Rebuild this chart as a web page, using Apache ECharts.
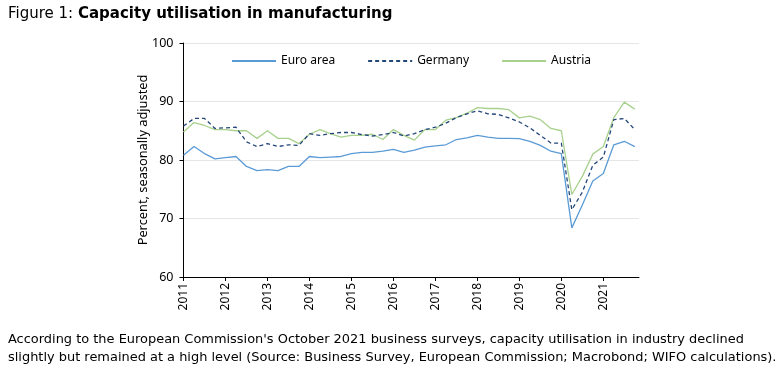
<!DOCTYPE html>
<html><head><meta charset="utf-8">
<script src="https://cdn.jsdelivr.net/npm/echarts@6/dist/echarts.min.js"></script>
<style>html,body{margin:0;padding:0;background:#fff}#c{width:781px;height:372px}</style>
</head><body><div id="c"></div>
<script>
var years = [2011,2012,2013,2014,2015,2016,2017,2018,2019,2020,2021];
var euroArea = [80.8,82.3,81.1,80.2, 80.4,80.6,78.9,78.2, 78.35,78.2,78.9,78.9, 80.6,80.4,80.5,80.6,
  81.1,81.3,81.3,81.5, 81.8,81.3,81.7,82.2, 82.4,82.6,83.5,83.8, 84.2,83.9,83.7,83.7,
  83.65,83.2,82.5,81.5, 81.1,68.4,72.3,76.4, 77.7,82.6,83.2,82.3];
var germany = [85.8,87.1,87.1,85.4, 85.5,85.6,83.1,82.3, 82.8,82.3,82.6,82.5, 84.5,84.2,84.5,84.7,
  84.7,84.35,84.1,84.35, 84.7,84.1,84.5,85.2, 85.6,86.3,87.25,87.9, 88.4,87.9,87.8,87.2,
  86.5,85.5,84.2,82.9, 82.9,71.5,74.5,79.1, 80.5,86.9,87.1,85.2];
var austria = [84.8,86.4,85.9,85.2, 85.2,85.0,85.0,83.7, 85.0,83.7,83.7,82.8, 84.4,85.2,84.5,83.9,
  84.2,84.2,84.4,83.5, 85.2,84.2,83.4,85.2, 85.2,86.8,87.25,88.0, 88.95,88.8,88.8,88.6,
  87.2,87.5,86.9,85.4, 85.0,74.1,77.2,81.0, 82.3,87.25,89.9,88.7];
var yTicks = [60,70,80,90,100];

function pairs(arr){ return arr.map(function(v,i){ return [years[0] + i/4, v]; }); }
var FONT = 'Noto Sans';
var CAP = 'DejaVu Sans';
var chart = echarts.init(document.getElementById('c'), null, {renderer:'canvas'});
chart.setOption({
  animation:false,
  textStyle:{fontFamily:FONT},
  title:[
    {text:'{n|Figure 1: }{b|Capacity utilisation in manufacturing}', left:3, top:2,
     textStyle:{fontWeight:'normal', rich:{n:{fontFamily:CAP,fontSize:15,fontWeight:'normal',color:'#000'},b:{fontFamily:CAP,fontSize:15,fontWeight:'bold',color:'#000'}}}},
    {text:"According to the European Commission's October 2021 business surveys, capacity utilisation in industry declined", left:3, top:328,
     textStyle:{fontFamily:CAP,fontSize:12.95,fontWeight:'normal',color:'#000'}},
    {text:'slightly but remained at a high level (Source: Business Survey, European Commission; Macrobond; WIFO calculations).', left:3, top:346,
     textStyle:{fontFamily:CAP,fontSize:12.95,fontWeight:'normal',color:'#000'}}
  ],
  legend:{left:226, top:50, itemWidth:44, itemHeight:10, itemGap:32,
    itemStyle:{color:'rgba(0,0,0,0)', borderColor:'rgba(0,0,0,0)', borderWidth:0},
    textStyle:{fontFamily:FONT,fontSize:12,color:'#000'},
    data:['Euro area','Germany','Austria']},
  grid:{left:183.5, right:142, top:43, bottom:95, containLabel:false},
  xAxis:{type:'value', min:2011, max:2021.85, interval:1,
    axisLine:{lineStyle:{color:'#000',width:1}},
    axisTick:{show:true, length:4, inside:false, customValues:years, lineStyle:{color:'#000'}},
    axisLabel:{rotate:90, margin:6, fontSize:12, color:'#000', fontFamily:FONT, customValues:years,
      formatter:function(v){return String(v);}},
    splitLine:{show:false}},
  yAxis:{type:'value', min:60, max:100, interval:10,
    name:'Percent, seasonally adjusted', nameLocation:'middle', nameGap:34, nameRotate:90,
    nameMoveOverlap:false,
    nameTextStyle:{fontFamily:FONT,fontSize:12.8,color:'#000'},
    axisLine:{show:true,lineStyle:{color:'#000',width:1}},
    axisTick:{show:true,length:4,lineStyle:{color:'#000'}},
    axisLabel:{margin:10, fontSize:12.5, color:'#000', fontFamily:FONT},
    splitLine:{show:true,lineStyle:{color:'#e6e6e6',width:1}}},
  series:[
    {name:'Euro area', type:'line', data:pairs(euroArea), symbol:'none', showSymbol:false,
      lineStyle:{color:'#5b9bd5',width:1.3}, itemStyle:{color:'#5b9bd5'}, z:3},
    {name:'Germany', type:'line', data:pairs(germany), symbol:'none', showSymbol:false,
      lineStyle:{color:'#24477a',width:1.3,type:[4,3]}, itemStyle:{color:'#24477a'}, z:2},
    {name:'Austria', type:'line', data:pairs(austria), symbol:'none', showSymbol:false,
      lineStyle:{color:'#a9d18e',width:1.3}, itemStyle:{color:'#a9d18e'}, z:1}
  ]
});
</script></body></html>
